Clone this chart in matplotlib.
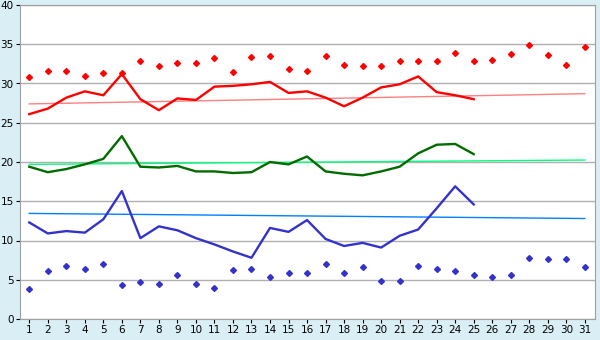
import numpy as np
import matplotlib
matplotlib.use("Agg")
import matplotlib.pyplot as plt

days = np.arange(1, 32)
days_line = np.arange(1, 26)

# valores
red_points = [30.8, 31.6, 31.6, 31.0, 31.4, 31.4, 32.9, 32.2, 32.6, 32.6,
              33.2, 31.5, 33.4, 33.5, 31.9, 31.6, 33.5, 32.4, 32.2, 32.2,
              32.9, 32.9, 32.9, 33.9, 32.9, 33.0, 33.8, 34.9, 33.6, 32.4, 34.7]
red_line = [26.1, 26.8, 28.2, 29.0, 28.5, 31.2, 28.0, 26.6, 28.1, 27.9,
            29.6, 29.7, 29.9, 30.2, 28.8, 29.0, 28.2, 27.1, 28.2, 29.5,
            29.9, 30.9, 28.9, 28.5, 28.0]
green_line = [19.4, 18.7, 19.1, 19.7, 20.4, 23.3, 19.4, 19.3, 19.5, 18.8,
              18.8, 18.6, 18.7, 20.0, 19.7, 20.7, 18.8, 18.5, 18.3, 18.8,
              19.4, 21.1, 22.2, 22.3, 21.0]
blue_line = [12.3, 10.9, 11.2, 11.0, 12.7, 16.3, 10.3, 11.8, 11.3, 10.3,
             9.5, 8.6, 7.8, 11.6, 11.1, 12.6, 10.2, 9.3, 9.7, 9.1,
             10.6, 11.4, 14.1, 16.9, 14.6]
blue_points = [3.8, 6.1, 6.7, 6.4, 7.0, 4.3, 4.7, 4.4, 5.6, 4.5,
               4.0, 6.3, 6.4, 5.4, 5.9, 5.8, 7.0, 5.9, 6.6, 4.8,
               4.9, 6.7, 6.4, 6.1, 5.6, 5.3, 5.6, 7.8, 7.7, 7.7, 6.6]

# tendencias (inicio, fin)
red_trend = [27.4, 28.7]
green_trend = [19.7, 20.25]
blue_trend = [13.45, 12.8]
trend_x = [1, 31]

bg = '#d9eef5'
fig = plt.figure(figsize=(6, 3.4), dpi=100, facecolor=bg)
ax = fig.add_axes([20/600, 1-319/340, 575/600, 314/340])
ax.set_facecolor('white')

ax.grid(axis='y', color='#b0b0b0', linewidth=1)
ax.set_axisbelow(True)

ax.plot(trend_x, red_trend, color='#ff8080', linewidth=1)
ax.plot(trend_x, green_trend, color='#00ff80', linewidth=1)
ax.plot(trend_x, blue_trend, color='#0080ff', linewidth=1)

ax.plot(days_line, red_line, color='#ff0000', linewidth=1.7)
ax.plot(days_line, green_line, color='#006c00', linewidth=1.7)
ax.plot(days_line, blue_line, color='#3333cc', linewidth=1.7)

ax.plot(days, red_points, linestyle='none', marker='D', markersize=3,
        color='#ff0000')
ax.plot(days, blue_points, linestyle='none', marker='D', markersize=3,
        color='#3333cc')

ax.set_xlim(0.5, 31.55)
ax.set_ylim(0, 40)
ax.set_xticks(days)
ax.set_yticks(range(0, 41, 5))
ax.tick_params(labelsize=7.5, length=3, color='black', pad=1.5)
for s in ax.spines.values():
    s.set_color('#a0a0a0')

plt.savefig('out.png', dpi=100, facecolor=bg)
